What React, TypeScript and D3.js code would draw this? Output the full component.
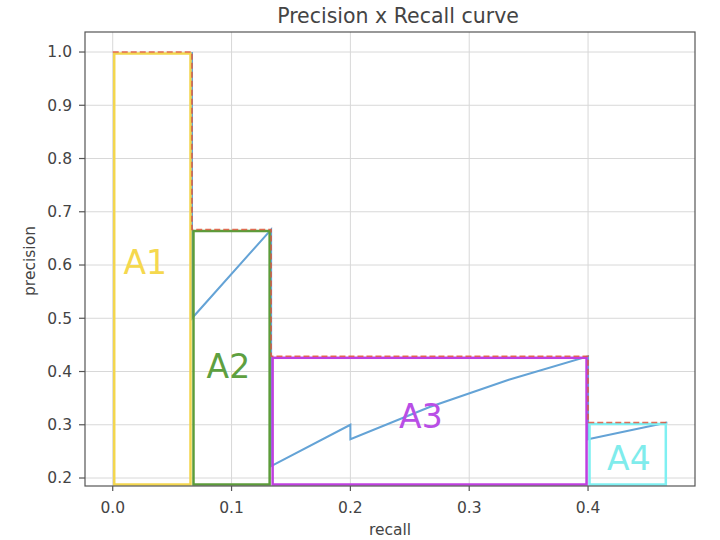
import React from "react";
import * as d3 from "d3";

const W = 720;
const H = 540;
const margin = { left: 85, right: 25, top: 32, bottom: 54 };

const xTicks = [0.0, 0.1, 0.2, 0.3, 0.4];
const yTicks = [0.2, 0.3, 0.4, 0.5, 0.6, 0.7, 0.8, 0.9, 1.0];

// precision x recall curve (blue)
const curveRecall = [0.0667, 0.0667, 0.1333, 0.1333, 0.2, 0.2, 0.2667, 0.3333, 0.4, 0.4, 0.4667];
const curvePrecision = [1.0, 0.5, 0.6667, 0.2222, 0.3, 0.2727, 0.3333, 0.3846, 0.4286, 0.2727, 0.3043];

// interpolated precision (dashed)
const interpRecall = [0.0, 0.0667, 0.0667, 0.1333, 0.1333, 0.4, 0.4, 0.4667];
const interpPrecision = [1.0, 1.0, 0.6667, 0.6667, 0.4286, 0.4286, 0.3043, 0.3043];

// area rectangles
const areaNames = ["A1", "A2", "A3", "A4"];
const areaStart = [0.0, 0.0667, 0.1333, 0.4];
const areaEnd = [0.0667, 0.1333, 0.4, 0.4667];
const areaHeight = [1.0, 0.6667, 0.4286, 0.3043];
const areaColors = ["#f3d64e", "#5c9c3a", "#c03fe0", "#7ff0f2"];
const labelColors = ["#f5d84e", "#5ea040", "#b94ee6", "#7fecec"];
const labelRecall = [0.009, 0.079, 0.241, 0.416];
const labelPrecision = [0.583, 0.388, 0.294, 0.215];

export default function App() {
  const x = d3.scaleLinear().domain([-0.02333, 0.49]).range([margin.left, W - margin.right]);
  const y = d3.scaleLinear().domain([0.185, 1.0376]).range([H - margin.bottom, margin.top]);
  const x0 = margin.left, x1 = W - margin.right, y0 = H - margin.bottom, y1 = margin.top;
  const font = "'DejaVu Sans', sans-serif";

  const curve = d3.line<number>().x((_, i) => x(curveRecall[i])).y((d) => y(d))(curvePrecision) || "";
  const interp = d3.line<number>().x((_, i) => x(interpRecall[i])).y((d) => y(d))(interpPrecision) || "";
  const ins = 1.5;

  return (
    <svg width={W} height={H} style={{ position: "absolute", left: 0, top: 0, background: "#fff" }}>
      <defs>
        <clipPath id="plot">
          <rect x={x0} y={y1} width={x1 - x0} height={y0 - y1} />
        </clipPath>
      </defs>
      {/* grid */}
      {xTicks.map((t) => (
        <line key={"gx" + t} x1={x(t)} x2={x(t)} y1={y1} y2={y0} stroke="#d8d8d8" strokeWidth={1} />
      ))}
      {yTicks.map((t) => (
        <line key={"gy" + t} x1={x0} x2={x1} y1={y(t)} y2={y(t)} stroke="#d8d8d8" strokeWidth={1} />
      ))}
      <g clipPath="url(#plot)">
        <path d={curve} fill="none" stroke="#64a3d6" strokeWidth={2} />
        {areaNames.map((n, i) => (
          <rect
            key={n}
            x={x(areaStart[i]) + ins}
            y={y(areaHeight[i]) + ins}
            width={x(areaEnd[i]) - x(areaStart[i]) - 2 * ins}
            height={y0 - y(areaHeight[i]) - 2 * ins}
            fill="none"
            stroke={areaColors[i]}
            strokeWidth={2.5}
          />
        ))}
        <path d={interp} fill="none" stroke="#e0563c" strokeOpacity={0.85} strokeWidth={1.6} strokeDasharray="6,3" />
        {areaNames.map((n, i) => (
          <text key={"l" + n} x={x(labelRecall[i])} y={y(labelPrecision[i])} fontFamily={font} fontSize={33} fill={labelColors[i]}>
            {n}
          </text>
        ))}
      </g>
      {/* frame */}
      <rect x={x0} y={y1} width={x1 - x0} height={y0 - y1} fill="none" stroke="#555" strokeWidth={1.2} />
      {/* ticks */}
      {xTicks.map((t) => (
        <g key={"tx" + t}>
          <line x1={x(t)} x2={x(t)} y1={y0} y2={y0 + 5} stroke="#555" strokeWidth={1.2} />
          <text x={x(t)} y={y0 + 27} textAnchor="middle" fontFamily={font} fontSize={15.5} fill="#444">
            {d3.format(".1f")(t)}
          </text>
        </g>
      ))}
      {yTicks.map((t) => (
        <g key={"ty" + t}>
          <line x1={x0 - 6} x2={x0} y1={y(t)} y2={y(t)} stroke="#555" strokeWidth={1.2} />
          <text x={x0 - 13} y={y(t)} dy="0.35em" textAnchor="end" fontFamily={font} fontSize={15.5} fill="#444">
            {d3.format(".1f")(t)}
          </text>
        </g>
      ))}
      <text x={(x0 + x1) / 2} y={y0 + 49} textAnchor="middle" fontFamily={font} fontSize={15.5} fill="#444">
        recall
      </text>
      <text
        transform={`translate(35,${(y0 + y1) / 2 + 2}) rotate(-90)`}
        textAnchor="middle"
        fontFamily={font}
        fontSize={15.5}
        fill="#444"
      >
        precision
      </text>
      <text x={398} y={23} textAnchor="middle" fontFamily={font} fontSize={20.5} fill="#444">
        Precision x Recall curve
      </text>
    </svg>
  );
}
